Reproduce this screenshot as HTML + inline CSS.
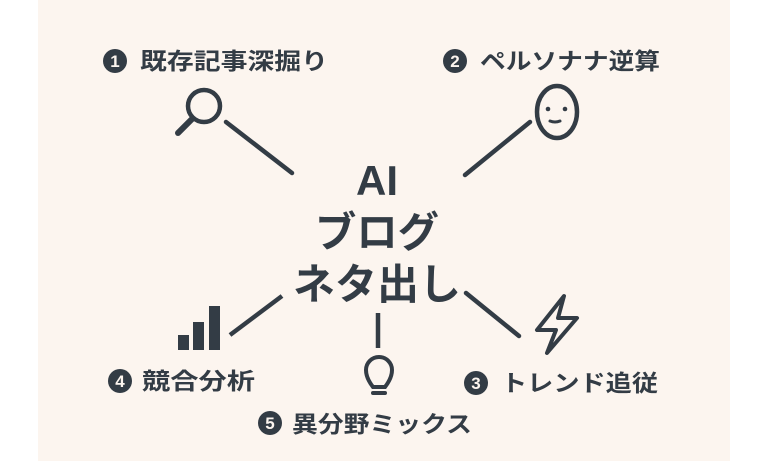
<!DOCTYPE html>
<html><head><meta charset="utf-8"><style>
html,body{margin:0;padding:0;width:768px;height:461px;background:#fff;overflow:hidden}
svg{display:block}
text{font-family:"Liberation Sans","Noto Sans CJK JP",sans-serif;font-weight:bold;fill:#333c45}
</style></head><body>
<svg width="768" height="461" viewBox="0 0 768 461">
<rect x="38" y="0" width="692" height="461" fill="#fcf5ef"/>
<g stroke="#333c45" stroke-width="4.5" fill="none" stroke-linecap="round">
<line x1="226" y1="122" x2="292" y2="173"/>
<line x1="530" y1="122" x2="465" y2="175"/>
<line x1="466" y1="293" x2="519" y2="336"/>
<line x1="230" y1="335" x2="282" y2="296" stroke-linecap="butt"/>
<line x1="378" y1="313" x2="378" y2="348" stroke-linecap="butt"/>
<circle cx="204" cy="106" r="16"/>
<line x1="192" y1="119" x2="178" y2="133" stroke-width="6"/>
<ellipse cx="557" cy="112" rx="20" ry="26"/>
<path d="M550 121 Q555 123 560 121" stroke-width="3"/>
<path d="M564 296 L537 330 L556 330 L547 353 L577 318 L558 318 Z" stroke-width="4" stroke-linejoin="round"/>
<path d="M373 387 Q366 378 366 370 A13 13 0 1 1 392 370 Q392 378 385 387 Z" stroke-width="4"/>
<line x1="373" y1="393" x2="385" y2="393" stroke-width="4"/>
</g>
<circle cx="548" cy="109" r="2.3" fill="#333c45"/>
<circle cx="565" cy="109" r="2.3" fill="#333c45"/>
<g fill="#333c45">
<rect x="178" y="335" width="11" height="15"/>
<rect x="193" y="322" width="11" height="28"/>
<rect x="209" y="306" width="11" height="44"/>
<circle cx="115" cy="61" r="12"/>
<circle cx="455" cy="61" r="12"/>
<circle cx="476" cy="383" r="12"/>
<circle cx="120" cy="381" r="12"/>
<circle cx="270" cy="423" r="12"/>
</g>
<g font-size="17" text-anchor="middle">
<text x="115" y="67" style="fill:#fcf5ef">1</text>
<text x="455" y="67" style="fill:#fcf5ef">2</text>
<text x="476" y="389" style="fill:#fcf5ef">3</text>
<text x="120" y="387" style="fill:#fcf5ef">4</text>
<text x="270" y="429" style="fill:#fcf5ef">5</text>
</g>
<g font-size="23">
<text x="140" y="69" textLength="188" lengthAdjust="spacingAndGlyphs">既存記事深掘り</text>
<text x="480" y="69" textLength="180" lengthAdjust="spacingAndGlyphs">ペルソナナ逆算</text>
<text x="501" y="391" textLength="157" lengthAdjust="spacingAndGlyphs">トレンド追従</text>
<text x="142" y="389" textLength="113" lengthAdjust="spacingAndGlyphs">競合分析</text>
<text x="292" y="432" textLength="180" lengthAdjust="spacingAndGlyphs">異分野ミックス</text>
</g>
<g font-size="42" text-anchor="middle">
<text x="377" y="195">AI</text>
<text x="377" y="247" textLength="124" lengthAdjust="spacingAndGlyphs">ブログ</text>
<text x="377" y="299" textLength="168" lengthAdjust="spacingAndGlyphs">ネタ出し</text>
</g>
</svg>
</body></html>
